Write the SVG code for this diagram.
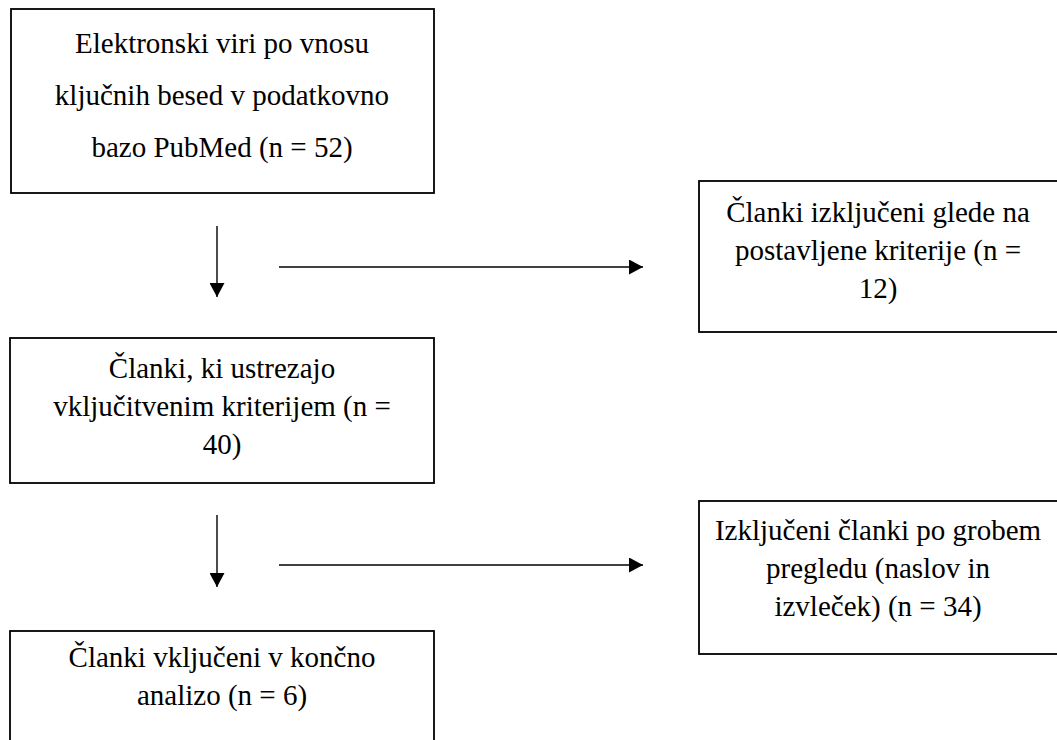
<svg xmlns="http://www.w3.org/2000/svg" width="1057" height="740" viewBox="0 0 1057 740">
<defs>
<style>
.box{fill:#fff;stroke:#000;stroke-width:1.8}
.t{font-size:29px;fill:#000;text-anchor:middle}
.c{stroke:#000;stroke-width:1.4;fill:none}
</style>
<marker id="ah" viewBox="0 0 14 15" refX="14" refY="7.5" markerWidth="14" markerHeight="15" markerUnits="userSpaceOnUse" orient="auto">
<path d="M0,0 L14,7.5 L0,15 Z" fill="#000"/>
</marker>
</defs>
<rect width="1057" height="740" fill="#fff"/>
<g font-family="'Liberation Serif', 'Times New Roman', Times, 'DejaVu Serif', serif">
<g id="n1">
<rect class="box" x="11" y="9" width="423" height="184"/>
<text class="t" x="222" y="53">Elektronski viri po vnosu</text>
<text class="t" x="222" y="105">ključnih besed v podatkovno</text>
<text class="t" x="222" y="157">bazo PubMed (n = 52)</text>
</g>
<g id="n2">
<rect class="box" x="699" y="181" width="370" height="151"/>
<text class="t" x="878" y="222">Članki izključeni glede na</text>
<text class="t" x="878" y="260">postavljene kriterije (n =</text>
<text class="t" x="878" y="298">12)</text>
</g>
<g id="n3">
<rect class="box" x="10" y="338" width="424" height="145"/>
<text class="t" x="222" y="378">Članki, ki ustrezajo</text>
<text class="t" x="222" y="416">vključitvenim kriterijem (n =</text>
<text class="t" x="222" y="454">40)</text>
</g>
<g id="n4">
<rect class="box" x="699" y="501" width="370" height="153"/>
<text class="t" x="878" y="540">Izključeni članki po grobem</text>
<text class="t" x="878" y="578">pregledu (naslov in</text>
<text class="t" x="878" y="616">izvleček) (n = 34)</text>
</g>
<g id="n5">
<rect class="box" x="10" y="631" width="424" height="130"/>
<text class="t" x="222" y="667">Članki vključeni v končno</text>
<text class="t" x="222" y="705">analizo (n = 6)</text>
</g>
</g>
<g id="connectors">
<line class="c" x1="217" y1="226" x2="217" y2="297" marker-end="url(#ah)"/>
<line class="c" x1="279" y1="267" x2="643" y2="267" marker-end="url(#ah)"/>
<line class="c" x1="217" y1="515" x2="217" y2="587" marker-end="url(#ah)"/>
<line class="c" x1="279" y1="565" x2="643" y2="565" marker-end="url(#ah)"/>
</g>
</svg>
